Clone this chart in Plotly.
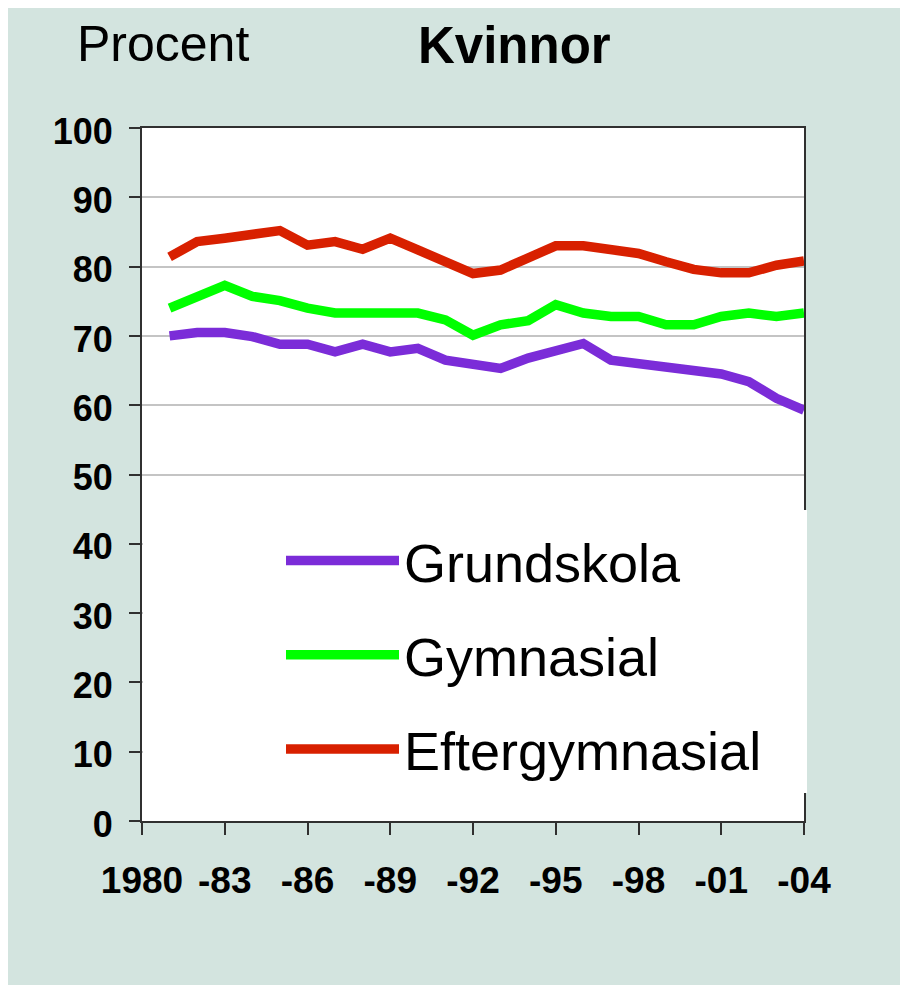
import plotly.graph_objects as go

years = list(range(1981, 2005))
grundskola = [70.0, 70.5, 70.5, 69.9, 68.8, 68.8, 67.7, 68.8, 67.7, 68.2, 66.5, 65.8,
              65.3, 66.8, 68.0, 68.9, 66.5, 66.0, 65.5, 65.0, 64.5, 63.4, 61.0, 59.3]
gymnasial = [74.0, 75.7, 77.3, 75.7, 75.1, 74.0, 73.3, 73.3, 73.3, 73.3, 72.3, 70.1,
             71.6, 72.2, 74.5, 73.3, 72.8, 72.8, 71.6, 71.6, 72.8, 73.3, 72.8, 73.3]
eftergymnasial = [81.4, 83.6, 84.1, 84.7, 85.2, 83.1, 83.6, 82.5, 84.1, 82.4, 80.7, 79.0,
                  79.5, 81.3, 83.0, 83.0, 82.5, 81.9, 80.7, 79.6, 79.1, 79.1, 80.2, 80.8]
series_names = ["Grundskola", "Gymnasial", "Eftergymnasial"]
series_colors = ["#7B2CD8", "#00FF00", "#D82000"]
x_tickvals = list(range(1980, 2005, 3))
x_ticktext = ["1980", "-83", "-86", "-89", "-92", "-95", "-98", "-01", "-04"]
y_tickvals = list(range(0, 101, 10))

FONT = "Liberation Sans, Arial, sans-serif"
BG = "#d3e4df"

fig = go.Figure()
for name, vals, col in zip(series_names, [grundskola, gymnasial, eftergymnasial], series_colors):
    fig.add_trace(go.Scatter(x=years, y=vals, mode="lines", name=name, legendgroup=name,
                             line=dict(color=col, width=9.5), hoverinfo="skip"))

# page is drawn with an 8px body margin: work in figure coordinates
W, H = 900, 977
ml, mr, mt, mb = 134, 104, 120, 164
pw = W - ml - mr
ph = H - mt - mb

def px_x(x):
    return (x - ml) / pw

def px_y(y):
    return (H - mb - y) / ph

fig.update_layout(
    width=W, height=H,
    margin=dict(l=ml, r=mr, t=mt, b=mb, pad=0),
    paper_bgcolor=BG,
    plot_bgcolor="white",
    showlegend=True,
    legend=dict(
        x=px_x(273), y=px_y(511), xanchor="left", yanchor="top",
        bgcolor="rgba(0,0,0,0)", borderwidth=0,
        font=dict(family=FONT, size=54, color="black"),
        itemwidth=113, traceorder="grouped", tracegroupgap=21,
    ),
    xaxis=dict(
        range=[1980, 2004], tickvals=x_tickvals, ticktext=x_ticktext,
        showgrid=False, zeroline=False,
        showline=True, linecolor="#303030", linewidth=2, mirror=True,
        ticks="outside", ticklen=12, tickwidth=1.5, tickcolor="#303030",
        tickfont=dict(family=FONT, size=37, color="black", weight="bold"),
        ticklabelstandoff=14,
    ),
    yaxis=dict(
        range=[0, 100], tickvals=y_tickvals,
        showgrid=True, gridcolor="#c4c4c4", gridwidth=1.5, zeroline=False,
        showline=True, linecolor="#303030", linewidth=2, mirror=True,
        ticks="outside", ticklen=11, tickwidth=1.5, tickcolor="#303030",
        tickfont=dict(family=FONT, size=36, color="black", weight="bold"),
        ticklabelstandoff=9, ticklabelshift=3,
    ),
    shapes=[
        dict(type="rect", xref="paper", yref="paper", layer="above",
             x0=px_x(135), x1=px_x(799), y0=px_y(785), y1=px_y(502),
             fillcolor="white", line=dict(width=0)),
    ],
    annotations=[
        dict(text="Procent", xref="paper", yref="paper", x=px_x(67), y=px_y(36),
             xanchor="left", yanchor="middle", showarrow=False,
             font=dict(family=FONT, size=50, color="black")),
        dict(text="<b>Kvinnor</b>", xref="paper", yref="paper", x=px_x(506), y=px_y(37),
             xanchor="center", yanchor="middle", showarrow=False,
             font=dict(family=FONT, size=51, color="black")),
    ],
)

fig.write_html("out.html")
